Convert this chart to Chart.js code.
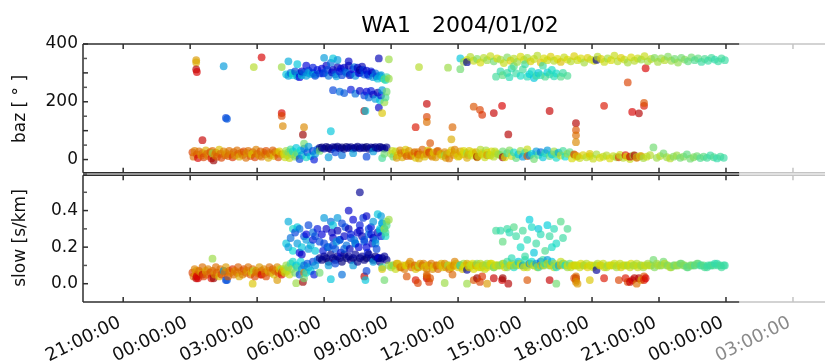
<!DOCTYPE html>
<html>
<head>
<meta charset="utf-8">
<script src="https://cdn.jsdelivr.net/npm/chart.js@4.4.1/dist/chart.umd.min.js"></script>
<style>
  html, body { margin: 0; padding: 0; background: #ffffff; }
  canvas { display: block; }
</style>
</head>
<body>
<canvas id="c" width="825" height="363"></canvas>
<script>
// ---------- axes / tick labels ----------
const titleText = 'WA1   2004/01/02';
const xTickHours = [-3, 0, 3, 6, 9, 12, 15, 18, 21, 24, 27];
const xTickLabels = ['21:00:00','00:00:00','03:00:00','06:00:00','09:00:00','12:00:00','15:00:00','18:00:00','21:00:00','00:00:00','03:00:00'];
const bazTicks = [0, 100, 200, 300, 400];
const bazMinorTicks = [-50, 50, 150, 250, 350];
const slowTicks = [0.0, 0.2, 0.4];
const slowTickLabels = ['0.0', '0.2', '0.4'];
const slowMinorTicks = [0.1, 0.3, 0.5];

// ---------- detections: time [h after 2004/01/02 00:00], baz [deg], slow [s/km], colour value (0..1) ----------
// night band (orange)
const dawnT = [0.1,0.15,0.2,0.3,0.35,0.4,0.5,0.55,0.6,0.7,
  0.75,0.8,0.9,0.95,1.0,1.1,1.15,1.2,1.3,1.35,
  1.4,1.5,1.55,1.6,1.7,1.75,1.8,1.9,1.95,2.0,
  2.1,2.15,2.2,2.3,2.35,2.4,2.5,2.55,2.6,2.7,
  2.75,2.8,2.9,2.95,3.0,3.1,3.15,3.2,3.3,3.35,
  3.4,3.5,3.55,3.6,3.7,3.75,3.8,3.9,3.95,4.0,
  4.1];
const dawnBaz = [25,10,30,18,5,28,14,22,8,32,
  20,12,26,4,30,16,24,10,34,20,
  6,28,15,22,12,30,18,8,26,14,
  32,20,10,24,16,28,6,22,30,12,
  18,26,8,34,20,14,28,10,24,18,
  30,6,22,16,32,12,26,20,8,28,
  18];
const dawnSlow = [0.06,0.04,0.08,0.05,0.03,0.07,0.06,0.09,0.04,0.07,
  0.05,0.08,0.06,0.03,0.07,0.05,0.09,0.06,0.04,0.08,
  0.05,0.07,0.06,0.09,0.04,0.07,0.06,0.08,0.05,0.07,
  0.06,0.09,0.04,0.07,0.05,0.08,0.06,0.07,0.09,0.05,
  0.06,0.08,0.04,0.07,0.06,0.09,0.05,0.07,0.08,0.06,
  0.04,0.07,0.09,0.06,0.08,0.05,0.07,0.09,0.06,0.08,
  0.07];
const dawnC = [0.8,0.75,0.73,0.77,0.88,0.75,0.7,0.75,0.8,0.68,
  0.75,0.73,0.78,0.86,0.75,0.72,0.75,0.77,0.66,0.75,
  0.8,0.73,0.75,0.7,0.77,0.75,0.73,0.82,0.75,0.72,
  0.75,0.77,0.68,0.75,0.73,0.79,0.75,0.7,0.75,0.77,
  0.66,0.75,0.8,0.73,0.75,0.7,0.77,0.75,0.72,0.75,
  0.79,0.68,0.75,0.73,0.77,0.66,0.75,0.72,0.79,0.64,
  0.7];

// transition
const shiftT = [4.2,4.25,4.3,4.35,4.4,4.45,4.5,4.55,4.6,4.7,
  4.75,4.8,4.9,4.95,5.0,5.1,5.2,5.25,5.3,5.4,
  5.5,5.55,5.6,5.7];
const shiftBaz = [20,8,30,15,25,5,35,18,28,10,
  40,22,2,32,15,38,8,25,45,12,
  30,0,20,35];
const shiftSlow = [0.08,0.06,0.1,0.07,0.09,0.05,0.11,0.08,0.12,0.06,
  0.1,0.09,0.05,0.12,0.08,0.1,0.06,0.11,0.09,0.07,
  0.12,0.05,0.1,0.13];
const shiftC = [0.62,0.6,0.55,0.58,0.52,0.6,0.45,0.55,0.4,0.5,
  0.35,0.45,0.2,0.38,0.3,0.25,0.4,0.22,0.3,0.35,
  0.2,0.15,0.3,0.25];

// morning swarm, low baz (dark blue)
const swarmLowT = [5.8,5.9,6.0,6.1,6.2,6.3,6.4,6.5,6.6,6.7,
  6.8,6.9,7.0,7.1,7.2,7.3,7.4,7.5,7.6,7.7,
  7.8,7.9,8.0,8.1,8.2,8.3,8.4,8.5,8.6,8.7,
  8.8,6.2,6.8,7.3,7.9,8.6,6.5,8.2];
const swarmLowBaz = [40,42,38,44,40,36,43,41,45,39,
  42,37,44,40,43,38,41,45,39,42,
  40,44,37,42,40,43,39,44,41,38,
  42,8,15,22,10,5,25,28];
const swarmLowSlow = [0.14,0.13,0.15,0.14,0.12,0.16,0.14,0.13,0.15,0.14,
  0.12,0.16,0.14,0.15,0.13,0.14,0.16,0.12,0.14,0.15,
  0.13,0.14,0.16,0.14,0.13,0.15,0.14,0.12,0.14,0.15,
  0.13,0.1,0.05,0.1,0.07,0.09,0.11,0.12];
const swarmLowC = [0.03,0.02,0.05,0.03,0.01,0.03,0.05,0.02,0.03,0.05,
  0.02,0.03,0.01,0.05,0.03,0.02,0.05,0.03,0.02,0.05,
  0.03,0.01,0.03,0.05,0.02,0.03,0.05,0.03,0.02,0.05,
  0.03,0.3,0.25,0.3,0.2,0.45,0.2,0.3];

// morning swarm, high baz cloud (blue / cyan)
const swarmHighT = [4.3,4.4,4.5,4.6,4.7,4.8,4.9,5.0,5.1,5.2,5.3,5.4,5.5,5.6,5.7,5.8,
  4.4,4.8,5.2,5.5,6.0,
  5.9,6.0,6.1,6.2,6.3,6.4,6.5,6.6,6.7,6.8,6.9,7.0,7.1,7.2,7.3,7.4,7.5,7.6,7.7,7.8,7.9,8.0,8.1,8.2,8.3,8.4,8.5,8.6,8.7,8.8,8.9,
  6.6,7.1,6.4,7.6,
  5.95,6.15,6.35,6.55,6.75,6.95,7.15,7.35,7.55,7.75,7.95,8.15,8.35,8.55,8.75,5.0,5.3,5.6,4.6,4.9];
const swarmHighBaz = [295,290,300,292,305,288,298,292,302,290,308,296,300,294,310,298,
  340,330,325,318,352,
  315,300,325,290,335,310,295,320,305,292,318,300,325,296,312,290,318,300,322,294,308,290,305,285,298,280,290,282,278,285,280,
  345,340,350,310,
  298,310,302,288,315,305,292,320,300,310,295,300,288,292,275,305,300,290,298,285];
const swarmHighSlow = [0.22,0.2,0.25,0.18,0.28,0.22,0.3,0.2,0.26,0.24,0.32,0.21,0.28,0.18,0.3,0.23,
  0.34,0.31,0.27,0.24,0.36,
  0.27,0.22,0.3,0.2,0.34,0.25,0.19,0.29,0.24,0.33,0.26,0.21,0.3,0.25,0.35,0.22,0.28,0.32,0.26,0.23,0.37,0.3,0.27,0.34,0.24,0.38,0.29,0.33,0.3,0.32,0.35,
  0.36,0.4,0.32,0.5,
  0.18,0.2,0.28,0.23,0.17,0.31,0.19,0.24,0.2,0.36,0.17,0.22,0.19,0.37,0.26,0.16,0.19,0.26,0.3,0.17];
const swarmHighC = [0.35,0.3,0.25,0.38,0.2,0.3,0.25,0.35,0.22,0.3,0.2,0.32,0.25,0.35,0.15,0.2,
  0.32,0.35,0.12,0.15,0.3,
  0.12,0.2,0.1,0.25,0.25,0.1,0.22,0.08,0.15,0.2,0.1,0.25,0.08,0.2,0.12,0.28,0.1,0.15,0.08,0.22,0.1,0.2,0.15,0.3,0.25,0.35,0.3,0.35,0.5,0.45,0.55,
  0.3,0.1,0.35,0.04,
  0.15,0.2,0.1,0.3,0.12,0.2,0.08,0.25,0.12,0.18,0.15,0.1,0.2,0.3,0.4,0.1,0.3,0.2,0.4,0.12];

// morning swarm, lower arm (baz 200-250)
const armT = [6.4,6.7,6.9,7.2,7.4,7.6,7.8,7.9,8.0,8.1,
  8.2,8.3,8.4,8.5,8.55,8.6,8.7,8.75,8.8];
const armBaz = [240,235,230,242,228,238,222,235,215,238,
  225,210,232,205,222,240,198,215,235];
const armSlow = [0.21,0.24,0.19,0.27,0.22,0.29,0.24,0.2,0.27,0.31,
  0.25,0.22,0.28,0.3,0.26,0.33,0.3,0.28,0.34];
const armC = [0.2,0.25,0.22,0.15,0.25,0.1,0.2,0.12,0.25,0.15,
  0.1,0.3,0.08,0.35,0.15,0.3,0.55,0.45,0.5];

// day band, low baz, before 14h (yellow / orange)
const dayLowT = [9.0,9.1,9.2,9.3,9.4,9.5,9.6,9.7,9.8,9.9,
  10.0,10.1,10.2,10.3,10.4,10.5,10.6,10.7,10.8,10.9,
  11.0,11.1,11.2,11.3,11.4,11.5,11.6,11.7,11.8,11.9,
  12.0,12.1,12.2,12.3,12.4,12.5,12.6,12.7,12.8,12.9,
  13.0,13.1,13.2,13.3,13.4,13.5,13.6,13.7,13.8,
  9.05,9.25,9.45,9.65,9.85,10.05,10.25,10.45,10.65,10.85,
  11.05,11.25,11.45,11.65,11.85,12.05,12.25,12.45,12.65,12.85,
  13.05,13.25,13.45,13.65];
const dayLowBaz = [20,10,28,15,32,8,24,18,30,12,
  22,6,26,16,34,10,20,28,14,24,
  8,30,18,12,26,20,4,32,16,22,
  10,28,18,24,6,30,14,20,26,12,
  34,18,8,24,16,28,10,22,18,
  30,6,22,34,14,26,4,18,32,10,
  28,20,6,24,34,12,30,16,26,8,
  22,32,14,28];
const dayLowSlow = [0.09,0.1,0.08,0.11,0.09,0.1,0.08,0.1,0.11,0.09,
  0.1,0.08,0.09,0.11,0.1,0.09,0.08,0.1,0.11,0.09,
  0.1,0.08,0.1,0.09,0.11,0.1,0.08,0.09,0.1,0.11,
  0.09,0.1,0.08,0.1,0.11,0.09,0.1,0.08,0.1,0.09,
  0.11,0.1,0.08,0.09,0.1,0.11,0.09,0.1,0.1,
  0.1,0.11,0.09,0.1,0.12,0.1,0.09,0.11,0.1,0.08,
  0.1,0.11,0.09,0.1,0.12,0.1,0.09,0.1,0.11,0.1,
  0.09,0.1,0.11,0.1];
const dayLowC = [0.55,0.5,0.6,0.66,0.72,0.68,0.74,0.64,0.7,0.76,
  0.68,0.65,0.73,0.7,0.76,0.66,0.72,0.68,0.74,0.64,
  0.7,0.76,0.68,0.65,0.72,0.7,0.74,0.66,0.72,0.68,
  0.64,0.7,0.66,0.62,0.68,0.65,0.6,0.63,0.68,0.62,
  0.58,0.65,0.6,0.63,0.56,0.62,0.58,0.6,0.55,
  0.6,0.7,0.74,0.65,0.72,0.76,0.68,0.73,0.66,0.72,
  0.76,0.68,0.7,0.65,0.73,0.66,0.63,0.68,0.62,0.66,
  0.6,0.56,0.62,0.58];

// day band, low baz, 14h-17h (mixed green / cyan)
const midLowT = [13.9,14.0,14.1,14.2,14.3,14.4,14.5,14.6,14.7,14.8,
  14.9,15.0,15.1,15.2,15.3,15.4,15.5,15.6,15.7,15.8,
  15.9,16.0,16.1,16.2,16.3,16.4,16.5,16.6,16.7,16.8,
  16.9,17.0,17.1,17.2];
const midLowBaz = [15,28,8,22,32,12,25,5,18,30,
  10,24,35,14,20,2,28,16,26,8,
  22,32,12,18,28,6,24,14,30,10,
  20,26,4,16];
const midLowSlow = [0.1,0.11,0.09,0.12,0.1,0.11,0.09,0.1,0.12,0.11,
  0.1,0.13,0.09,0.11,0.12,0.1,0.11,0.09,0.12,0.1,
  0.11,0.13,0.1,0.12,0.11,0.09,0.1,0.12,0.11,0.1,
  0.09,0.11,0.1,0.1];
const midLowC = [0.55,0.5,0.62,0.45,0.52,0.6,0.4,0.48,0.35,0.55,
  0.3,0.42,0.6,0.28,0.38,0.5,0.3,0.45,0.25,0.35,
  0.42,0.3,0.48,0.35,0.55,0.4,0.32,0.6,0.45,0.38,
  0.55,0.48,0.62,0.58];

// evening band, low baz (yellow-green, sparse)
const eveLowT = [17.3,17.45,17.6,17.75,17.9,18.05,18.2,18.35,18.5,18.65,
  18.8,18.95,19.1,19.25,19.4,19.55,19.7,19.85,20.0,20.15,
  20.3,20.45,20.6,20.75,20.9,21.05,21.2,21.35,21.5,21.65,
  21.8,21.95,22.1,22.25,22.4,22.55,22.7,22.85,23.0,23.15,
  23.3,23.45,23.6,23.75,23.9];
const eveLowBaz = [10,5,15,8,12,3,18,6,10,14,
  4,12,8,16,6,10,2,14,8,12,
  5,10,15,42,6,12,21,8,4,10,
  14,6,10,18,3,8,12,5,10,6,
  14,8,4,10,6];
const eveLowSlow = [0.1,0.09,0.1,0.11,0.1,0.09,0.1,0.1,0.11,0.09,
  0.1,0.1,0.09,0.11,0.1,0.1,0.09,0.1,0.11,0.1,
  0.09,0.1,0.1,0.13,0.11,0.1,0.12,0.1,0.09,0.1,
  0.1,0.11,0.1,0.09,0.1,0.1,0.11,0.1,0.1,0.09,
  0.1,0.1,0.11,0.1,0.1];
const eveLowC = [0.62,0.6,0.64,0.58,0.62,0.6,0.56,0.62,0.6,0.58,
  0.62,0.6,0.56,0.6,0.58,0.62,0.6,0.55,0.58,0.6,
  0.56,0.6,0.58,0.5,0.55,0.58,0.5,0.55,0.58,0.52,
  0.55,0.5,0.52,0.48,0.5,0.52,0.5,0.46,0.48,0.45,
  0.44,0.46,0.43,0.45,0.44];

// afternoon/evening band, high baz (~345)
const dayHighT = [12.1,12.25,12.4,12.55,12.7,12.85,13.0,13.15,13.3,13.45,
  13.6,13.75,13.9,14.05,14.2,14.35,14.5,14.65,14.8,14.95,
  15.1,15.25,15.4,15.55,15.7,15.85,16.0,16.15,16.3,16.45,
  16.6,16.75,16.9,17.05,17.2,17.35,17.5,17.65,17.8,17.95,
  18.1,18.25,18.4,18.55,18.7,18.85,19.0,19.15,19.3,19.45,
  19.6,19.75,19.9,20.05,20.2,20.35,20.5,20.65,20.8,20.95,
  21.1,21.25,21.4,21.55,21.7,21.85,22.0,22.15,22.3,22.45,
  22.6,22.75,22.9,23.05,23.2,23.35,23.5,23.65,23.8,23.95];
const dayHighBaz = [350,338,345,355,342,348,336,352,344,358,
  340,350,346,334,354,342,349,338,356,345,
  352,340,348,360,336,350,344,356,342,348,
  338,354,346,340,358,344,350,336,352,346,
  342,356,348,338,350,344,360,340,352,346,
  336,354,342,350,346,358,340,348,352,338,
  350,344,356,342,348,336,352,346,340,354,
  344,350,338,348,342,352,346,340,350,344];
const dayHighSlow = [0.1,0.11,0.09,0.1,0.1,0.11,0.09,0.1,0.11,0.1,
  0.09,0.1,0.1,0.11,0.09,0.1,0.1,0.11,0.1,0.09,
  0.1,0.11,0.1,0.09,0.1,0.1,0.11,0.1,0.09,0.1,
  0.1,0.11,0.1,0.09,0.1,0.1,0.11,0.1,0.09,0.1,
  0.1,0.11,0.1,0.09,0.1,0.1,0.11,0.1,0.09,0.1,
  0.1,0.11,0.1,0.09,0.1,0.1,0.11,0.1,0.09,0.1,
  0.1,0.11,0.1,0.09,0.1,0.1,0.11,0.1,0.09,0.1,
  0.1,0.11,0.1,0.09,0.1,0.1,0.11,0.1,0.09,0.1];
const dayHighC = [0.35,0.55,0.62,0.58,0.6,0.52,0.62,0.58,0.55,0.6,
  0.5,0.62,0.56,0.6,0.52,0.64,0.58,0.55,0.62,0.6,
  0.56,0.64,0.6,0.58,0.66,0.62,0.6,0.64,0.58,0.62,
  0.66,0.6,0.62,0.58,0.64,0.6,0.62,0.56,0.64,0.6,
  0.62,0.58,0.64,0.6,0.56,0.62,0.6,0.58,0.64,0.6,
  0.56,0.62,0.58,0.6,0.55,0.6,0.56,0.58,0.52,0.56,
  0.54,0.58,0.52,0.55,0.5,0.54,0.5,0.52,0.48,0.5,
  0.46,0.48,0.44,0.46,0.44,0.45,0.43,0.44,0.45,0.44];

// afternoon cyan cluster (baz ~300, slow 0.15-0.35)
const cyanT = [13.7,13.9,14.0,14.2,14.3,14.5,14.6,14.8,14.9,15.1,
  15.2,15.3,15.5,15.6,15.7,15.9,16.0,16.1,16.3,16.4,
  16.6,16.7,16.9,15.0,14.4,15.4,16.2,15.8];
const cyanBaz = [287,305,292,300,285,323,298,290,312,287,
  296,305,290,300,292,287,302,295,288,298,
  287,300,290,330,315,282,310,325];
const cyanSlow = [0.29,0.29,0.23,0.3,0.28,0.31,0.26,0.2,0.29,0.24,
  0.35,0.31,0.22,0.3,0.27,0.18,0.32,0.26,0.3,0.22,
  0.34,0.25,0.3,0.15,0.14,0.17,0.2,0.13];
const cyanC = [0.45,0.43,0.48,0.44,0.42,0.47,0.44,0.4,0.45,0.42,
  0.36,0.4,0.44,0.35,0.42,0.46,0.36,0.44,0.42,0.4,
  0.47,0.44,0.46,0.44,0.42,0.35,0.4,0.44];

// isolated detections [time, baz, slow, colour]
const strays = [
  [0.27,344,0.07,0.7],[0.27,336,0.05,0.68],[0.27,312,0.03,0.92],[0.3,303,0.04,0.88],
  [1.5,323,0.07,0.3],[1.6,144,0.02,0.2],[1.65,141,0.02,0.22],[0.55,67,0.05,0.9],
  [1.05,-3,0.03,0.95],[1.0,22,0.137,0.55],[2.85,320,0.07,0.58],[3.2,354,0.05,0.88],
  [4.1,320,0.08,0.55],[4.1,161,0.05,0.88],[4.1,151,0.06,0.8],[4.15,116,0.07,0.72],
  [5.1,112,0.06,0.72],[5.05,86,0.01,0.95],[5.1,55,0.03,0.5],[6.3,98,0.025,0.35],
  [2.8,20,0.0,0.65],[3.9,25,0.02,0.7],[4.75,15,0.003,0.55],[5.8,30,0.06,0.5],
  [7.8,168,0.04,0.92],[7.85,168,0.02,0.35],[8.7,20,0.02,0.5],[8.45,350,0.14,0.08],
  [8.9,347,0.1,0.55],[8.6,161,0.08,0.65],[8.45,180,0.14,0.1],
  [10.6,193,0.03,0.9],[10.6,148,0.04,0.8],[10.6,130,0.05,0.75],[10.1,112,0.02,0.85],
  [11.75,112,0.05,0.76],[10.75,57,0.03,0.78],[11.7,70,0.09,0.68],[12.7,183,0.02,0.78],
  [12.98,172,0.01,0.8],[13.08,155,0.04,0.82],[13.6,161,0.03,0.9],[13.97,186,0.02,0.88],
  [14.25,87,0.0,0.92],[16.1,168,0.02,0.9],[17.28,126,0.03,0.92],[17.28,102,0.02,0.78],
  [17.28,84,0.04,0.75],[17.28,60,0.01,0.72],[18.54,186,0.03,0.85],[19.6,267,0.01,0.8],
  [19.8,165,0.02,0.88],[20.1,160,0.03,0.92],[20.33,186,0.02,0.85],[20.33,196,0.04,0.78],
  [20.4,316,0.03,0.88],[12.4,337,0.076,0.05],[18.2,345,0.075,0.05],
  [10.25,320,0.1,0.58],[11.55,318,0.1,0.55],[12.1,313,0.1,0.5],
  [9.7,12,0.04,0.78],[10.2,18,0.004,0.8],[10.7,25,0.01,0.82],[11.4,15,0.004,0.55],
  [12.4,22,0.0,0.55],[12.85,10,0.03,0.95],[13.3,15,0.0,0.7],[14.0,8,0.03,0.95],
  [15.1,12,0.02,0.78],[16.4,20,0.0,0.5],[17.2,18,0.03,0.8],[17.35,12,0.0,0.7],
  [17.9,20,0.02,0.65],[19.2,8,0.02,0.8],[19.5,15,0.03,0.85],[19.7,10,0.01,0.9],
  [19.9,14,0.03,0.92],[20.0,6,0.0,0.75],[20.2,12,0.02,0.7]
];

// ---------- assemble ----------
const groups = [
  [dawnT, dawnBaz, dawnSlow, dawnC],
  [shiftT, shiftBaz, shiftSlow, shiftC],
  [swarmLowT, swarmLowBaz, swarmLowSlow, swarmLowC],
  [swarmHighT, swarmHighBaz, swarmHighSlow, swarmHighC],
  [armT, armBaz, armSlow, armC],
  [dayLowT, dayLowBaz, dayLowSlow, dayLowC],
  [midLowT, midLowBaz, midLowSlow, midLowC],
  [eveLowT, eveLowBaz, eveLowSlow, eveLowC],
  [dayHighT, dayHighBaz, dayHighSlow, dayHighC],
  [cyanT, cyanBaz, cyanSlow, cyanC]
];
const events = [];
groups.forEach(([T, B, S, C]) => {
  T.forEach((t, i) => events.push({ t: t, b: B[i], s: S[i], c: C[i] }));
});
strays.forEach(([t, b, s, c]) => events.push({ t: t, b: b, s: s, c: c }));
events.sort((p, q) => p.t - q.t);

const POINT_ALPHA = 0.66;
const POINT_RADIUS = 3.9;
const COLOUR_SCALE = 0.86;
function jet(v, a) {
  const f = x => Math.round(255 * COLOUR_SCALE * Math.max(0, Math.min(1, x)));
  return 'rgba(' + f(1.5 - Math.abs(4 * v - 3)) + ',' + f(1.5 - Math.abs(4 * v - 2)) + ',' +
         f(1.5 - Math.abs(4 * v - 1)) + ',' + a + ')';
}
const pointColours = events.map(e => jet(e.c, POINT_ALPHA));

// ---------- styling ----------
const FONT = 'DejaVu Sans';
const DARK = '#2e2e2e';
const LIGHT = '#c4c4c4';
const FRAME_FADE_HOURS = 24.6;
const X_LABEL_ROTATION = 26;   // degrees
Chart.defaults.font.family = FONT;

const framePlugin = {
  id: 'frame',
  afterDraw(chart) {
    const ctx = chart.ctx;
    const xs = chart.scales.x;
    const L = chart.chartArea.left, R = chart.width;
    const fx = xs.getPixelForValue(FRAME_FADE_HOURS);
    ctx.save();
    ctx.lineWidth = 1.5;
    const seg = (x1, y1, x2, y2, col) => {
      ctx.strokeStyle = col; ctx.beginPath(); ctx.moveTo(x1, y1); ctx.lineTo(x2, y2); ctx.stroke();
    };
    const hline = y => { seg(L, y, fx, y, DARK); seg(fx, y, R, y, LIGHT); };
    const panels = [
      { id: 'yb', major: bazTicks, minor: bazMinorTicks },
      { id: 'ys', major: slowTicks, minor: slowMinorTicks }
    ];
    panels.forEach((p, k) => {
      const s = chart.scales[p.id];
      const top = s.top + (k === 1 ? 1.2 : 0);
      const bot = s.bottom - (k === 0 ? 1.2 : 0);
      hline(top); hline(bot);
      seg(L, top, L, bot, DARK);
      xTickHours.forEach(h => {
        const px = xs.getPixelForValue(h);
        const col = px < fx ? DARK : LIGHT;
        seg(px, top, px, top + 5, col);
        seg(px, bot, px, bot - 5, col);
      });
      p.major.forEach(v => { const py = s.getPixelForValue(v); seg(L, py, L + 5, py, DARK); });
      p.minor.forEach(v => { const py = s.getPixelForValue(v); seg(L, py, L + 4, py, '#555'); });
    });
    // rotated time labels under the lower panel
    ctx.font = '18px "' + FONT + '"';
    ctx.textAlign = 'right';
    ctx.textBaseline = 'alphabetic';
    const baseY = chart.chartArea.bottom + 24;
    xTickHours.forEach((h, i) => {
      const px = xs.getPixelForValue(h);
      ctx.save();
      ctx.translate(px - 1.5, baseY);
      ctx.rotate(-X_LABEL_ROTATION * Math.PI / 180);
      ctx.fillStyle = px < fx ? '#111' : '#8a8a8a';
      ctx.fillText(xTickLabels[i], 0, 0);
      ctx.restore();
    });
    // title
    ctx.fillStyle = '#000';
    ctx.font = '22px "' + FONT + '"';
    ctx.textAlign = 'center';
    ctx.textBaseline = 'alphabetic';
    ctx.fillText(titleText, 460, 32);
    ctx.restore();
  }
};

const tickFont = { family: FONT, size: 17 };

new Chart(document.getElementById('c'), {
  type: 'scatter',
  data: {
    datasets: [
      {
        label: 'baz', yAxisID: 'yb',
        data: events.map(e => ({ x: e.t, y: e.b })),
        pointBackgroundColor: pointColours, pointBorderWidth: 0,
        pointRadius: POINT_RADIUS, pointHoverRadius: POINT_RADIUS
      },
      {
        label: 'slow', yAxisID: 'ys',
        data: events.map(e => ({ x: e.t, y: e.s })),
        pointBackgroundColor: pointColours, pointBorderWidth: 0,
        pointRadius: POINT_RADIUS, pointHoverRadius: POINT_RADIUS
      }
    ]
  },
  options: {
    responsive: false,
    animation: false,
    devicePixelRatio: 1,
    layout: { padding: { top: 44, left: 0, right: 0, bottom: 0 } },
    plugins: { legend: { display: false }, tooltip: { enabled: false }, title: { display: false } },
    scales: {
      x: {
        type: 'linear', position: 'bottom', min: -4.8, max: 28.26,
        grid: { display: false, drawTicks: false }, border: { display: false },
        afterBuildTicks: s => { s.ticks = xTickHours.map(v => ({ value: v })); },
        afterFit: s => { s.height = 61; },
        ticks: { display: false, autoSkip: false, callback: (v, i) => xTickLabels[i] }
      },
      ys: {
        type: 'linear', position: 'left', stack: 'panels', stackWeight: 128,
        min: -0.1, max: 0.6,
        grid: { display: false, drawTicks: false }, border: { display: false },
        afterBuildTicks: s => { s.ticks = slowTicks.map(v => ({ value: v })); },
        afterFit: s => { s.width = 83; },
        ticks: { padding: 5, font: tickFont, color: '#111', callback: (v, i) => slowTickLabels[i] },
        title: { display: true, text: 'slow [s/km]', font: { family: FONT, size: 17 }, color: '#111', padding: { top: 10, bottom: 0 } }
      },
      yb: {
        type: 'linear', position: 'left', stack: 'panels', stackWeight: 130,
        min: -50, max: 400,
        grid: { display: false, drawTicks: false }, border: { display: false },
        afterBuildTicks: s => { s.ticks = bazTicks.map(v => ({ value: v })); },
        afterFit: s => { s.width = 83; },
        ticks: { padding: 5, font: tickFont, color: '#111', callback: v => String(v) },
        title: { display: true, text: 'baz [ ° ]', font: { family: FONT, size: 17 }, color: '#111', padding: { top: 10, bottom: 0 } }
      }
    }
  },
  plugins: [framePlugin]
});
</script>
</body>
</html>
